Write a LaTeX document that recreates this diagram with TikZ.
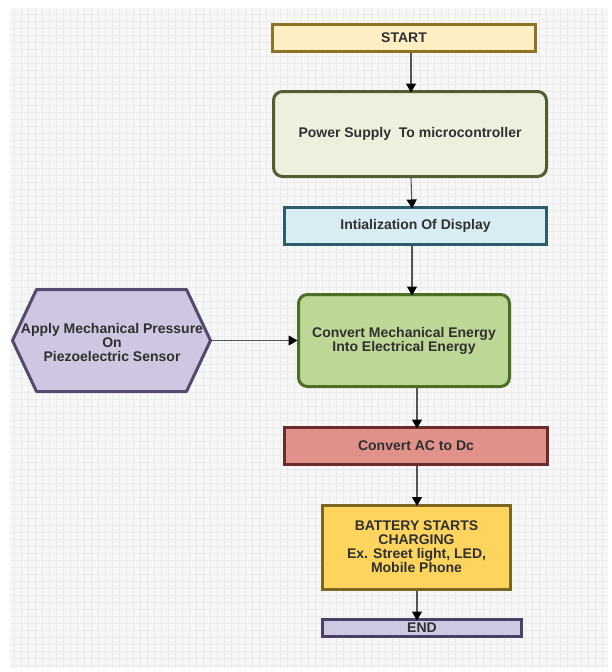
\documentclass[tikz,border=0pt]{standalone}
\usepackage{fontspec}
\setmainfont{Liberation Sans}
\usetikzlibrary{arrows.meta,calc}
\definecolor{bggray}{HTML}{F7F7F7}
\definecolor{gridcol}{HTML}{ECECEC}
\definecolor{txt}{HTML}{303030}
\definecolor{arrowgray}{HTML}{555555}
\definecolor{startfill}{HTML}{FDEEC4}
\definecolor{startdraw}{HTML}{8C7424}
\definecolor{pwfill}{HTML}{EBF1DD}
\definecolor{pwdraw}{HTML}{535E30}
\definecolor{initfill}{HTML}{D8ECF4}
\definecolor{initdraw}{HTML}{2D5C6C}
\definecolor{hexfill}{HTML}{CFC7E1}
\definecolor{hexdraw}{HTML}{554A6E}
\definecolor{convfill}{HTML}{BDD796}
\definecolor{convdraw}{HTML}{4D6E25}
\definecolor{acfill}{HTML}{DF918A}
\definecolor{acdraw}{HTML}{6A2B2A}
\definecolor{batfill}{HTML}{FDD55E}
\definecolor{batdraw}{HTML}{7D6622}
\definecolor{endfill}{HTML}{CFC8E2}
\definecolor{enddraw}{HTML}{4B4068}
\begin{document}
\begin{tikzpicture}[x=1pt,y=-1pt,
  boxbase/.style={draw, line width=3pt, font=\fontsize{14}{14}\selectfont\bfseries,
    text=txt, align=center, inner sep=0pt, outer sep=0pt},
  roundbox/.style={boxbase, rounded corners=9pt},
  arr/.style={draw=arrowgray, line width=1.1pt, -{Triangle[width=10pt,length=9pt,color=black]}}]
\useasboundingbox (0,0) rectangle (612,672);
\fill[white] (0,0) rectangle (612,672);
\fill[bggray] (10,8) rectangle (608,668);
\draw[gridcol, line width=0.5pt, step=7pt] (10,8) grid (608,668);

\node[boxbase, fill=startfill, draw=startdraw, minimum width=263pt, minimum height=27pt] (start) at (404,38) {START};
\node[roundbox, fill=pwfill, draw=pwdraw, minimum width=273pt, minimum height=85pt] (pw) at (410,134) {Power Supply\ \ To microcontroller};
\node[boxbase, fill=initfill, draw=initdraw, minimum width=262pt, minimum height=37pt] (init) at (415.5,226) {Intialization Of Display};

\node[inner sep=0pt, outer sep=0pt, minimum width=198pt, minimum height=102pt] (hex) at (111.5,340.5) {};
\filldraw[fill=hexfill, draw=hexdraw, line width=3pt, line join=round]
  (hex.west) -- ([xshift=24pt]hex.north west) -- ([xshift=-24pt]hex.north east) -- (hex.east)
  -- ([xshift=-24pt]hex.south east) -- ([xshift=24pt]hex.south west) -- cycle;
\node[font=\fontsize{14}{14}\selectfont\bfseries, text=txt, align=center, inner sep=0pt] (hextext) at (112,342) {Apply Mechanical Pressure\\On\\Piezoelectric Sensor};

\node[roundbox, fill=convfill, draw=convdraw, minimum width=211pt, minimum height=92pt] (conv) at (404,340.5) {Convert Mechanical Energy\\Into Electrical Energy};
\node[boxbase, fill=acfill, draw=acdraw, minimum width=263pt, minimum height=37pt] (ac) at (416,446) {Convert AC to Dc};
\node[boxbase, fill=batfill, draw=batdraw, minimum width=188pt, minimum height=84pt] (bat) at (416.5,547) {BATTERY STARTS\\CHARGING\\Ex. Street light, LED,\\Mobile Phone};
\node[boxbase, fill=endfill, draw=enddraw, minimum width=199pt, minimum height=17pt] (end) at (422,628) {END};

\draw[arr] ([xshift=7pt,yshift=-1.5pt]start.south) -- ([xshift=1pt,yshift=-1pt]pw.north);
\draw[arr] ([xshift=1pt,yshift=-1.5pt]pw.south) -- ([xshift=-3.5pt,yshift=-1pt]init.north);
\draw[arr] ([xshift=-3.5pt,yshift=-1.5pt]init.south) -- ([xshift=8pt,yshift=-1pt]conv.north);
\draw[arr] ([xshift=13pt,yshift=-1.5pt]conv.south) -- ([xshift=1pt,yshift=-1pt]ac.north);
\draw[arr] ([xshift=1pt,yshift=-1.5pt]ac.south) -- ([xshift=0.5pt,yshift=-1pt]bat.north);
\draw[arr] ([xshift=0.5pt,yshift=-1.5pt]bat.south) -- ([xshift=-5pt,yshift=-1pt]end.north);
\draw[arr] ([xshift=1.5pt]hex.east) -- ([xshift=-1pt]conv.west);
\end{tikzpicture}
\end{document}
